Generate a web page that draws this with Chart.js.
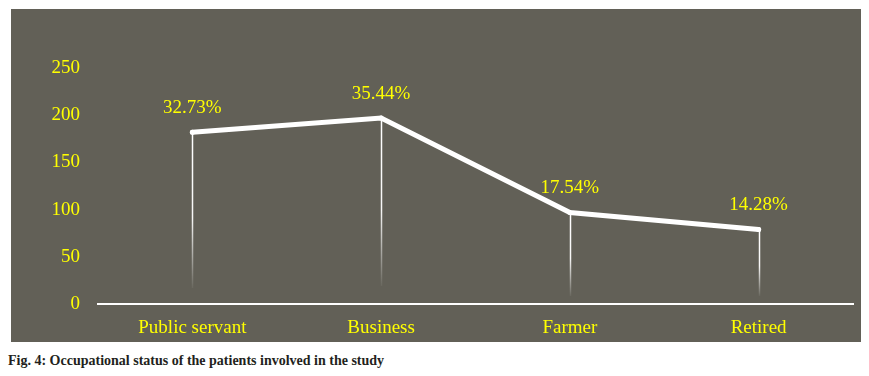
<!DOCTYPE html>
<html><head><meta charset="utf-8">
<script src="https://cdn.jsdelivr.net/npm/chart.js@4"></script>
<style>
html,body{margin:0;padding:0;background:#fff;width:869px;height:376px;overflow:hidden;}
#panel{position:absolute;left:11px;top:9px;width:850px;height:333px;background:#626057;}
#cap{position:absolute;left:8px;top:353px;font-family:"Liberation Serif","Times New Roman",serif;font-weight:bold;font-size:14px;color:#231f20;white-space:nowrap;}
#warm{position:absolute;left:-999px;top:0;font-family:"Liberation Serif";font-size:19px;}
</style></head><body>
<div id="warm">0123456789%. Public servant</div>
<div id="panel"><canvas id="c" width="850" height="333"></canvas></div>
<div id="cap">Fig. 4: Occupational status of the patients involved in the study</div>
<script>
const categories = ['Public servant','Business','Farmer','Retired'];
const patients = [182, 197, 97, 79];
const percentLabels = ['32.73%','35.44%','17.54%','14.28%'];
const yTicks = [0, 50, 100, 150, 200, 250];

const YELLOW = '#ffff00';
const SERIF = '"Liberation Serif","Times New Roman",serif';

const dropAndLabels = {
  id: 'dropAndLabels',
  beforeDatasetsDraw(chart) {
    const ctx = chart.ctx;
    const meta = chart.getDatasetMeta(0);
    const bottom = chart.chartArea.bottom;
    const gaps = [16, 18, 8, 8];
    ctx.save();
    meta.data.forEach((pt, i) => {
      const endY = bottom - gaps[i];
      const g = ctx.createLinearGradient(0, pt.y, 0, endY);
      g.addColorStop(0, 'rgba(255,255,255,1)');
      g.addColorStop(0.55, 'rgba(255,255,255,0.95)');
      g.addColorStop(1, 'rgba(255,255,255,0.05)');
      ctx.strokeStyle = g;
      ctx.lineWidth = 1.5;
      ctx.beginPath();
      ctx.moveTo(Math.round(pt.x) + 0.5, pt.y);
      ctx.lineTo(Math.round(pt.x) + 0.5, endY);
      ctx.stroke();
    });
    ctx.restore();
  },
  afterDatasetsDraw(chart) {
    const ctx = chart.ctx;
    const meta = chart.getDatasetMeta(0);
    ctx.save();
    ctx.fillStyle = YELLOW;
    ctx.font = '19px ' + SERIF;
    ctx.textAlign = 'center';
    ctx.textBaseline = 'middle';
    meta.data.forEach((pt, i) => {
      ctx.fillText(percentLabels[i], pt.x, pt.y - 24);
    });
    ctx.restore();
  }
};

function draw() {
  new Chart(document.getElementById('c'), {
    type: 'line',
    data: {
      labels: categories,
      datasets: [{
        data: patients,
        borderColor: '#ffffff',
        borderWidth: 5,
        tension: 0,
        pointRadius: 2.5,
        pointBackgroundColor: '#ffffff',
        pointBorderWidth: 0,
        borderCapStyle: 'round',
        borderJoinStyle: 'miter'
      }]
    },
    options: {
      responsive: false,
      animation: false,
      layout: { padding: { top: 59, right: 8, left: 0, bottom: 0 } },
      plugins: { legend: { display: false }, tooltip: { enabled: false } },
      scales: {
        x: {
          offset: true,
          grid: { display: false, drawTicks: false },
          border: { display: true, color: '#ffffff', width: 2 },
          ticks: { color: YELLOW, font: { family: SERIF, size: 19 }, padding: 13, maxRotation: 0 },
          afterFit(s) { s.height = 38; }
        },
        y: {
          min: 0, max: 250,
          afterBuildTicks(s) { s.ticks = yTicks.map(v => ({ value: v })); },
          grid: { display: false, drawTicks: false },
          border: { display: false },
          ticks: { color: YELLOW, font: { family: SERIF, size: 19 }, padding: 18 },
          afterFit(s) { s.width = 87; }
        }
      }
    },
    plugins: [dropAndLabels]
  });
}
Promise.all([
  document.fonts.load('19px "Liberation Serif"'),
  document.fonts.load('bold 14px "Liberation Serif"')
]).then(draw, draw);
</script>
</body></html>
